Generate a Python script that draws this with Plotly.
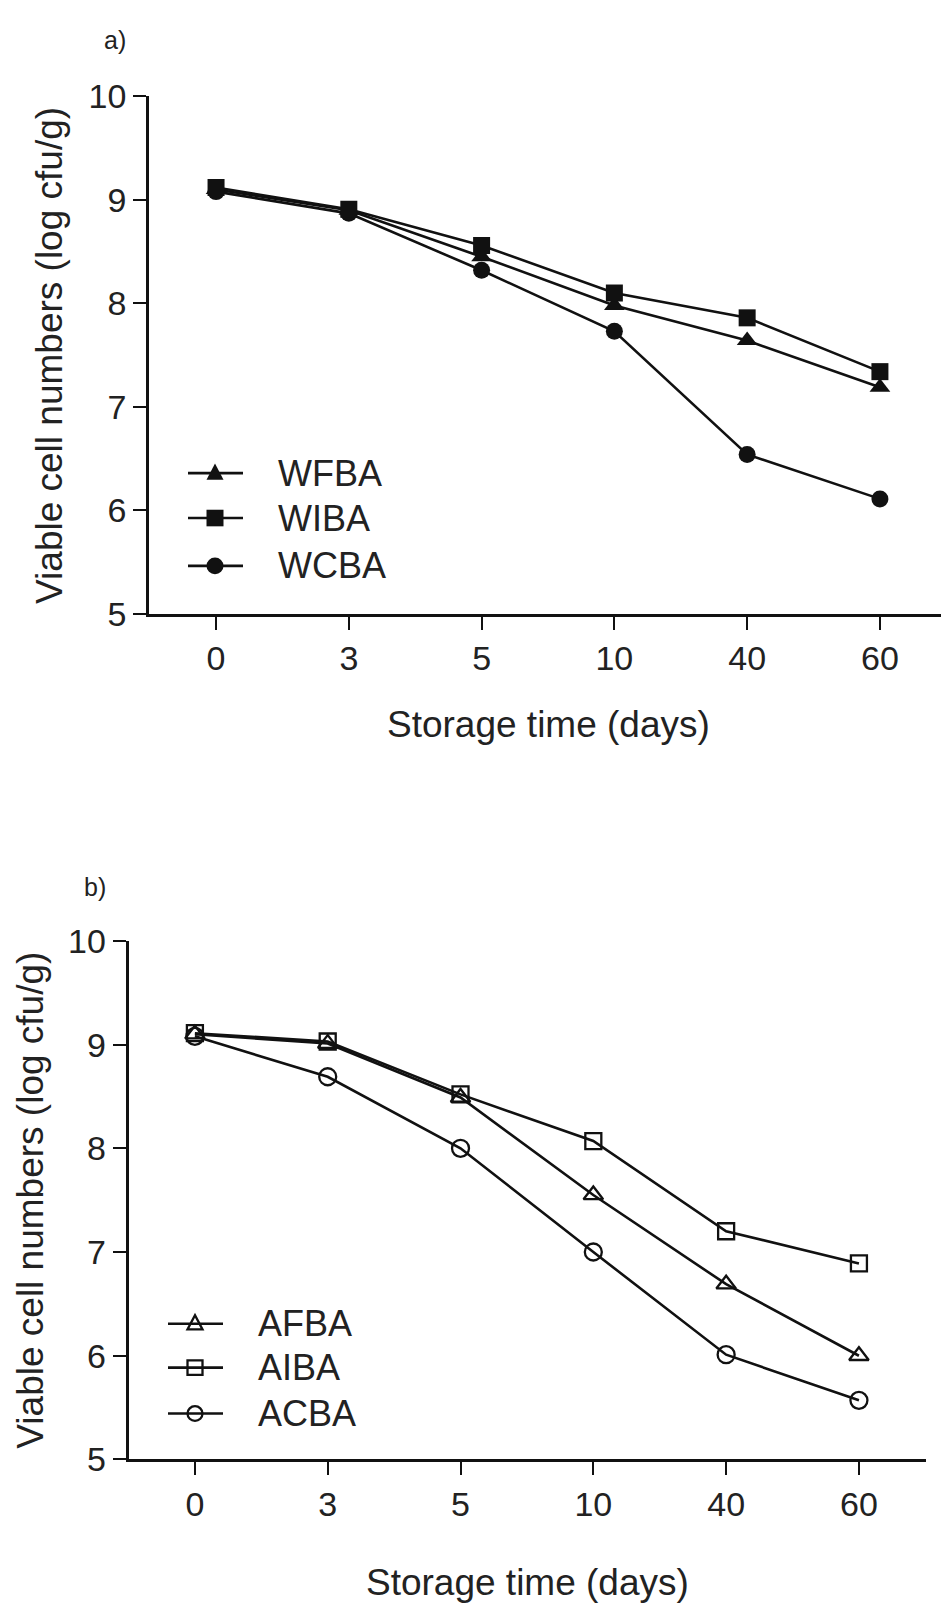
import plotly.graph_objects as go

# ---------------- data ----------------
days = ["0", "3", "5", "10", "40", "60"]

wfba = [9.10, 8.90, 8.45, 7.98, 7.64, 7.19]
wiba = [9.12, 8.91, 8.56, 8.10, 7.86, 7.34]
wcba = [9.08, 8.87, 8.32, 7.73, 6.54, 6.11]

afba = [9.10, 9.01, 8.49, 7.55, 6.69, 6.00]
aiba = [9.11, 9.03, 8.52, 8.07, 7.20, 6.89]
acba = [9.08, 8.69, 8.00, 7.00, 6.01, 5.57]

y_ticks = [5, 6, 7, 8, 9, 10]

W, H = 941, 1622
INK = "#111111"
TXT = "#222222"
FONT = "Liberation Sans, Arial, sans-serif"


def px(x):
    return x / W


def py(y):
    return 1 - y / H


fig = go.Figure()

line_style = dict(color=INK, width=2.6)

# panel a (filled symbols)
panel_a = [("WCBA", wcba, "circle", 17),
           ("WFBA", wfba, "triangle-up", 18),
           ("WIBA", wiba, "square", 17)]
for name, vals, sym, sz in panel_a:
    fig.add_trace(go.Scatter(
        x=days, y=vals, name=name, mode="lines+markers",
        line=line_style,
        marker=dict(symbol=sym, size=sz, color=INK, line=dict(width=0)),
        xaxis="x", yaxis="y", showlegend=False))

# panel b (open symbols)
panel_b = [("ACBA", acba, "circle-open", 17),
           ("AFBA", afba, "triangle-up-open", 17),
           ("AIBA", aiba, "square-open", 16)]
for name, vals, sym, sz in panel_b:
    fig.add_trace(go.Scatter(
        x=days, y=vals, name=name, mode="lines+markers",
        line=line_style,
        marker=dict(symbol=sym, size=sz, color=INK, line=dict(width=2.3, color=INK)),
        xaxis="x2", yaxis="y2", showlegend=False))

axis_common = dict(
    showline=True, linecolor=INK, linewidth=2.6,
    ticks="outside", ticklen=13, tickwidth=2.2, tickcolor=INK,
    showgrid=False, zeroline=False,
    tickfont=dict(family=FONT, size=34, color=TXT),
)

fig.update_layout(
    width=W, height=H,
    margin=dict(l=0, r=0, t=0, b=0),
    paper_bgcolor="white", plot_bgcolor="white",
    font=dict(family=FONT, color=INK),
    xaxis=dict(axis_common, type="category", domain=[px(149), px(941)],
               range=[-0.505, 5.46], anchor="y"),
    yaxis=dict(axis_common, domain=[py(609), py(79.3)], range=[5, 10],
               tickvals=y_ticks, anchor="x"),
    xaxis2=dict(axis_common, type="category", domain=[px(128.5), px(926)],
                range=[-0.50, 5.505], anchor="y2"),
    yaxis2=dict(axis_common, domain=[py(1475), py(944)], range=[5, 10],
                tickvals=y_ticks, anchor="x2"),
)

annotations = []
shapes = []

# panel labels
annotations.append(dict(text="a)", x=px(115), y=py(22), xref="paper", yref="paper",
                        showarrow=False, font=dict(size=25, color=TXT),
                        xanchor="center", yanchor="middle"))
annotations.append(dict(text="b)", x=px(95), y=py(889), xref="paper", yref="paper",
                        showarrow=False, font=dict(size=25, color=TXT),
                        xanchor="center", yanchor="middle"))

# axis titles
for cx, cy in [(548, 722), (527, 1601)]:
    annotations.append(dict(text="Storage time (days)", x=px(cx), y=py(cy),
                            xref="paper", yref="paper", showarrow=False,
                            font=dict(size=37, color=TXT),
                            xanchor="center", yanchor="middle"))
for cx, cy in [(50, 345), (31, 1210)]:
    annotations.append(dict(text="Viable cell numbers (log cfu/g)", x=px(cx), y=py(cy),
                            xref="paper", yref="paper", showarrow=False, textangle=-90,
                            font=dict(size=37, color=TXT),
                            xanchor="center", yanchor="middle"))


# manual legends (layout decoration)
def legend_key(mx, my, sym, filled):
    shapes.append(dict(type="line", xref="paper", yref="paper",
                       x0=px(mx - 27), x1=px(mx + 28), y0=py(my), y1=py(my),
                       line=dict(color=INK, width=2.6)))
    fill = INK if filled else "rgba(0,0,0,0)"
    r = 8.5 if filled else 7.5
    lw = 0 if filled else 2.3
    if sym == "square":
        shapes.append(dict(type="rect", xref="paper", yref="paper",
                           x0=px(mx - r), x1=px(mx + r), y0=py(my + r), y1=py(my - r),
                           fillcolor=fill, line=dict(color=INK, width=lw)))
    elif sym == "circle":
        shapes.append(dict(type="circle", xref="paper", yref="paper",
                           x0=px(mx - r), x1=px(mx + r), y0=py(my + r), y1=py(my - r),
                           fillcolor=fill, line=dict(color=INK, width=lw)))
    else:
        h = r * 1.05
        path = (f"M {px(mx - r)},{py(my + h * 0.75)} "
                f"L {px(mx + r)},{py(my + h * 0.75)} "
                f"L {px(mx)},{py(my - h * 1.1)} Z")
        shapes.append(dict(type="path", xref="paper", yref="paper", path=path,
                           fillcolor=fill, line=dict(color=INK, width=lw)))


leg_a = [("WFBA", "triangle", 465), ("WIBA", "square", 511), ("WCBA", "circle", 560)]
for name, sym, yy in leg_a:
    legend_key(215, yy, sym, True)
    annotations.append(dict(text=name, x=px(276), y=py(yy), xref="paper", yref="paper",
                            showarrow=False, xanchor="left", yanchor="middle",
                            font=dict(size=36, color=TXT)))

leg_b = [("AFBA", "triangle", 1336), ("AIBA", "square", 1381), ("ACBA", "circle", 1428)]
for name, sym, yy in leg_b:
    legend_key(195, yy, sym, False)
    annotations.append(dict(text=name, x=px(256), y=py(yy), xref="paper", yref="paper",
                            showarrow=False, xanchor="left", yanchor="middle",
                            font=dict(size=36, color=TXT)))

fig.update_layout(annotations=annotations, shapes=shapes)

fig.write_html("out.html")
